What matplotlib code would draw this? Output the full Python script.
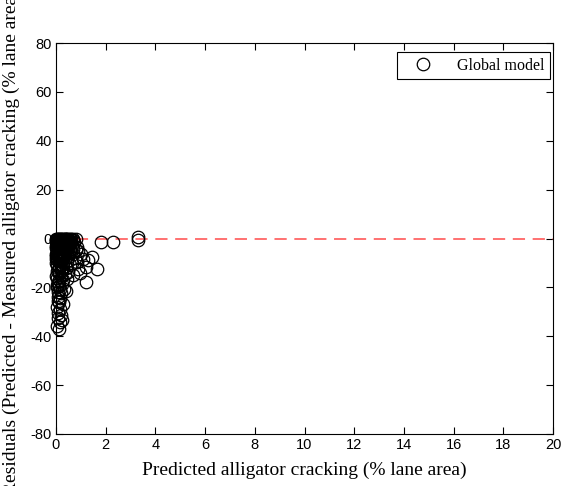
import numpy as np
import matplotlib.pyplot as plt

plt.rcParams['axes.unicode_minus'] = False

# predicted cracking (% lane area) and residuals (predicted - measured)
pred = [0.0, 0.05, 0.1, 0.15, 0.2, 0.25, 0.3, 0.35, 0.4, 0.45, 0.5, 0.55, 0.6, 0.7, 0.8,
        0.02, 0.08, 0.14, 0.22, 0.3, 0.38, 0.45, 0.52, 0.6, 0.68,
        0.03, 0.1, 0.18, 0.26, 0.34, 0.42, 0.5, 0.58, 0.66,
        0.01, 0.07, 0.15, 0.23, 0.31, 0.39, 0.47, 0.55, 0.7, 0.85,
        0.04, 0.12, 0.2, 0.28, 0.36, 0.44, 0.6, 0.9,
        0.02, 0.09, 0.17, 0.25, 0.33, 0.5, 0.75, 1.0, 1.1,
        0.05, 0.13, 0.21, 0.3, 0.45, 0.65, 0.85, 1.3, 1.45,
        0.03, 0.11, 0.19, 0.28, 0.4, 0.55, 0.9, 1.2, 1.65,
        0.06, 0.14, 0.24, 0.35, 0.5, 0.7, 0.95,
        0.04, 0.12, 0.2, 0.3, 0.45, 1.2, 0.08, 0.25,
        0.05, 0.15, 0.32, 0.1, 0.22, 0.4, 0.07, 0.18,
        0.12, 0.3, 0.05, 0.18, 0.1,
        0.2, 0.08, 0.15, 0.25, 0.05, 0.12,
        0.0, 0.06, 0.12, 0.18, 0.24, 0.3, 0.36, 0.42, 0.48,
        0.0, 0.06, 0.12, 0.18, 0.24, 0.3, 0.36, 0.42,
        0.0, 0.06, 0.12, 0.18, 0.24, 0.3, 0.36,
        0.0, 0.06, 0.12, 0.18, 0.24, 0.3,
        0.02, 0.08, 0.16, 0.22, 0.02, 0.1, 0.2, 0.04, 0.14, 0.1,
        0.5, 0.62, 0.74, 0.56, 0.68, 0.8,
        1.8, 2.3, 3.3, 3.3]
resid = [0, 0, 0, 0, 0, 0, 0, 0, 0, 0, 0, 0, 0, 0, -0.3,
         -1, -1.2, -0.8, -1.1, -0.9, -1.3, -1, -0.7, -1.4, -0.6,
         -2.5, -2.2, -2.8, -2.4, -2.6, -2.1, -2.9, -2.3, -2.7,
         -4, -4.3, -3.8, -4.2, -3.9, -4.5, -3.7, -4.4, -4.1, -3.5,
         -5.5, -5.8, -5.2, -5.7, -5.3, -6, -5.5, -5.2,
         -7, -7.3, -6.8, -7.2, -6.9, -7.5, -7.8, -6.5, -8.2,
         -9, -9.4, -8.8, -9.6, -9.1, -10, -9.5, -9, -7.5,
         -11, -11.5, -10.8, -11.8, -12.2, -11, -12.5, -11.8, -12.3,
         -13.5, -14, -13.2, -14.5, -13.8, -15, -14.2,
         -16, -16.8, -15.8, -17, -16.5, -17.8, -18.5, -18.8,
         -20, -20.5, -20.8, -22, -22.5, -21.5, -24, -24.5,
         -26, -27, -28, -29, -30.5,
         -31.5, -32.5, -34, -33.5, -36, -37,
         -0.5, -1.8, -0.4, -1.6, -0.6, -1.9, -0.3, -1.7, -0.8,
         -3.2, -3.0, -3.4, -3.1, -3.3, -2.9, -3.5, -3.2,
         -6.2, -6.4, -6.0, -6.3, -6.1, -6.5, -6.2,
         -8.3, -8.0, -8.5, -8.1, -8.4, -7.9,
         -10.2, -12.8, -10.5, -12.9, -15.2, -17.6, -13.0, -19.2, -19.6, -25.5,
         -1.2, -2.0, -1.5, -5.0, -6.3, -4.8,
         -1.5, -1.5, -0.5, 0.6]

xticks = np.arange(0, 21, 2)
yticks = np.arange(-80, 81, 20)

fig = plt.figure(figsize=(5.61, 4.86), dpi=100)
ax = fig.add_axes([0.0998, 0.107, 0.886, 0.8045])

ax.plot(pred, resid, 'o', mfc='none', mec='black', ms=9, mew=0.9,
        label='Global model', clip_on=False, zorder=3)
ax.plot([0, 20], [0, 0], '--', color='#ff4a4a', lw=1.1, dashes=(8, 5), zorder=2)

ax.set_xlim(0, 20)
ax.set_ylim(-80, 80)
ax.set_xticks(xticks)
ax.set_yticks(yticks)
ax.tick_params(direction='in', top=True, right=True, length=5, width=0.8,
               labelsize=10.5, pad=3)
for lab in ax.get_xticklabels() + ax.get_yticklabels():
    lab.set_family('Liberation Sans')
for s in ax.spines.values():
    s.set_linewidth(0.8)

ax.set_xlabel('Predicted alligator cracking (% lane area)',
              family='Liberation Serif', fontsize=14, labelpad=7)
ax.set_ylabel('Residuals (Predicted - Measured alligator cracking (% lane area))',
              family='Liberation Serif', fontsize=14)
ax.yaxis.set_label_coords(-0.072, 0.5)

leg = ax.legend(loc='upper right', bbox_to_anchor=(0.994, 0.977), borderaxespad=0,
                prop={'family': 'Liberation Serif', 'size': 11.5},
                fancybox=False, edgecolor='black', framealpha=1,
                borderpad=0.35, handlelength=2.6, handletextpad=0.8)
leg.get_frame().set_linewidth(0.8)

fig.savefig('out.png', dpi=100)
